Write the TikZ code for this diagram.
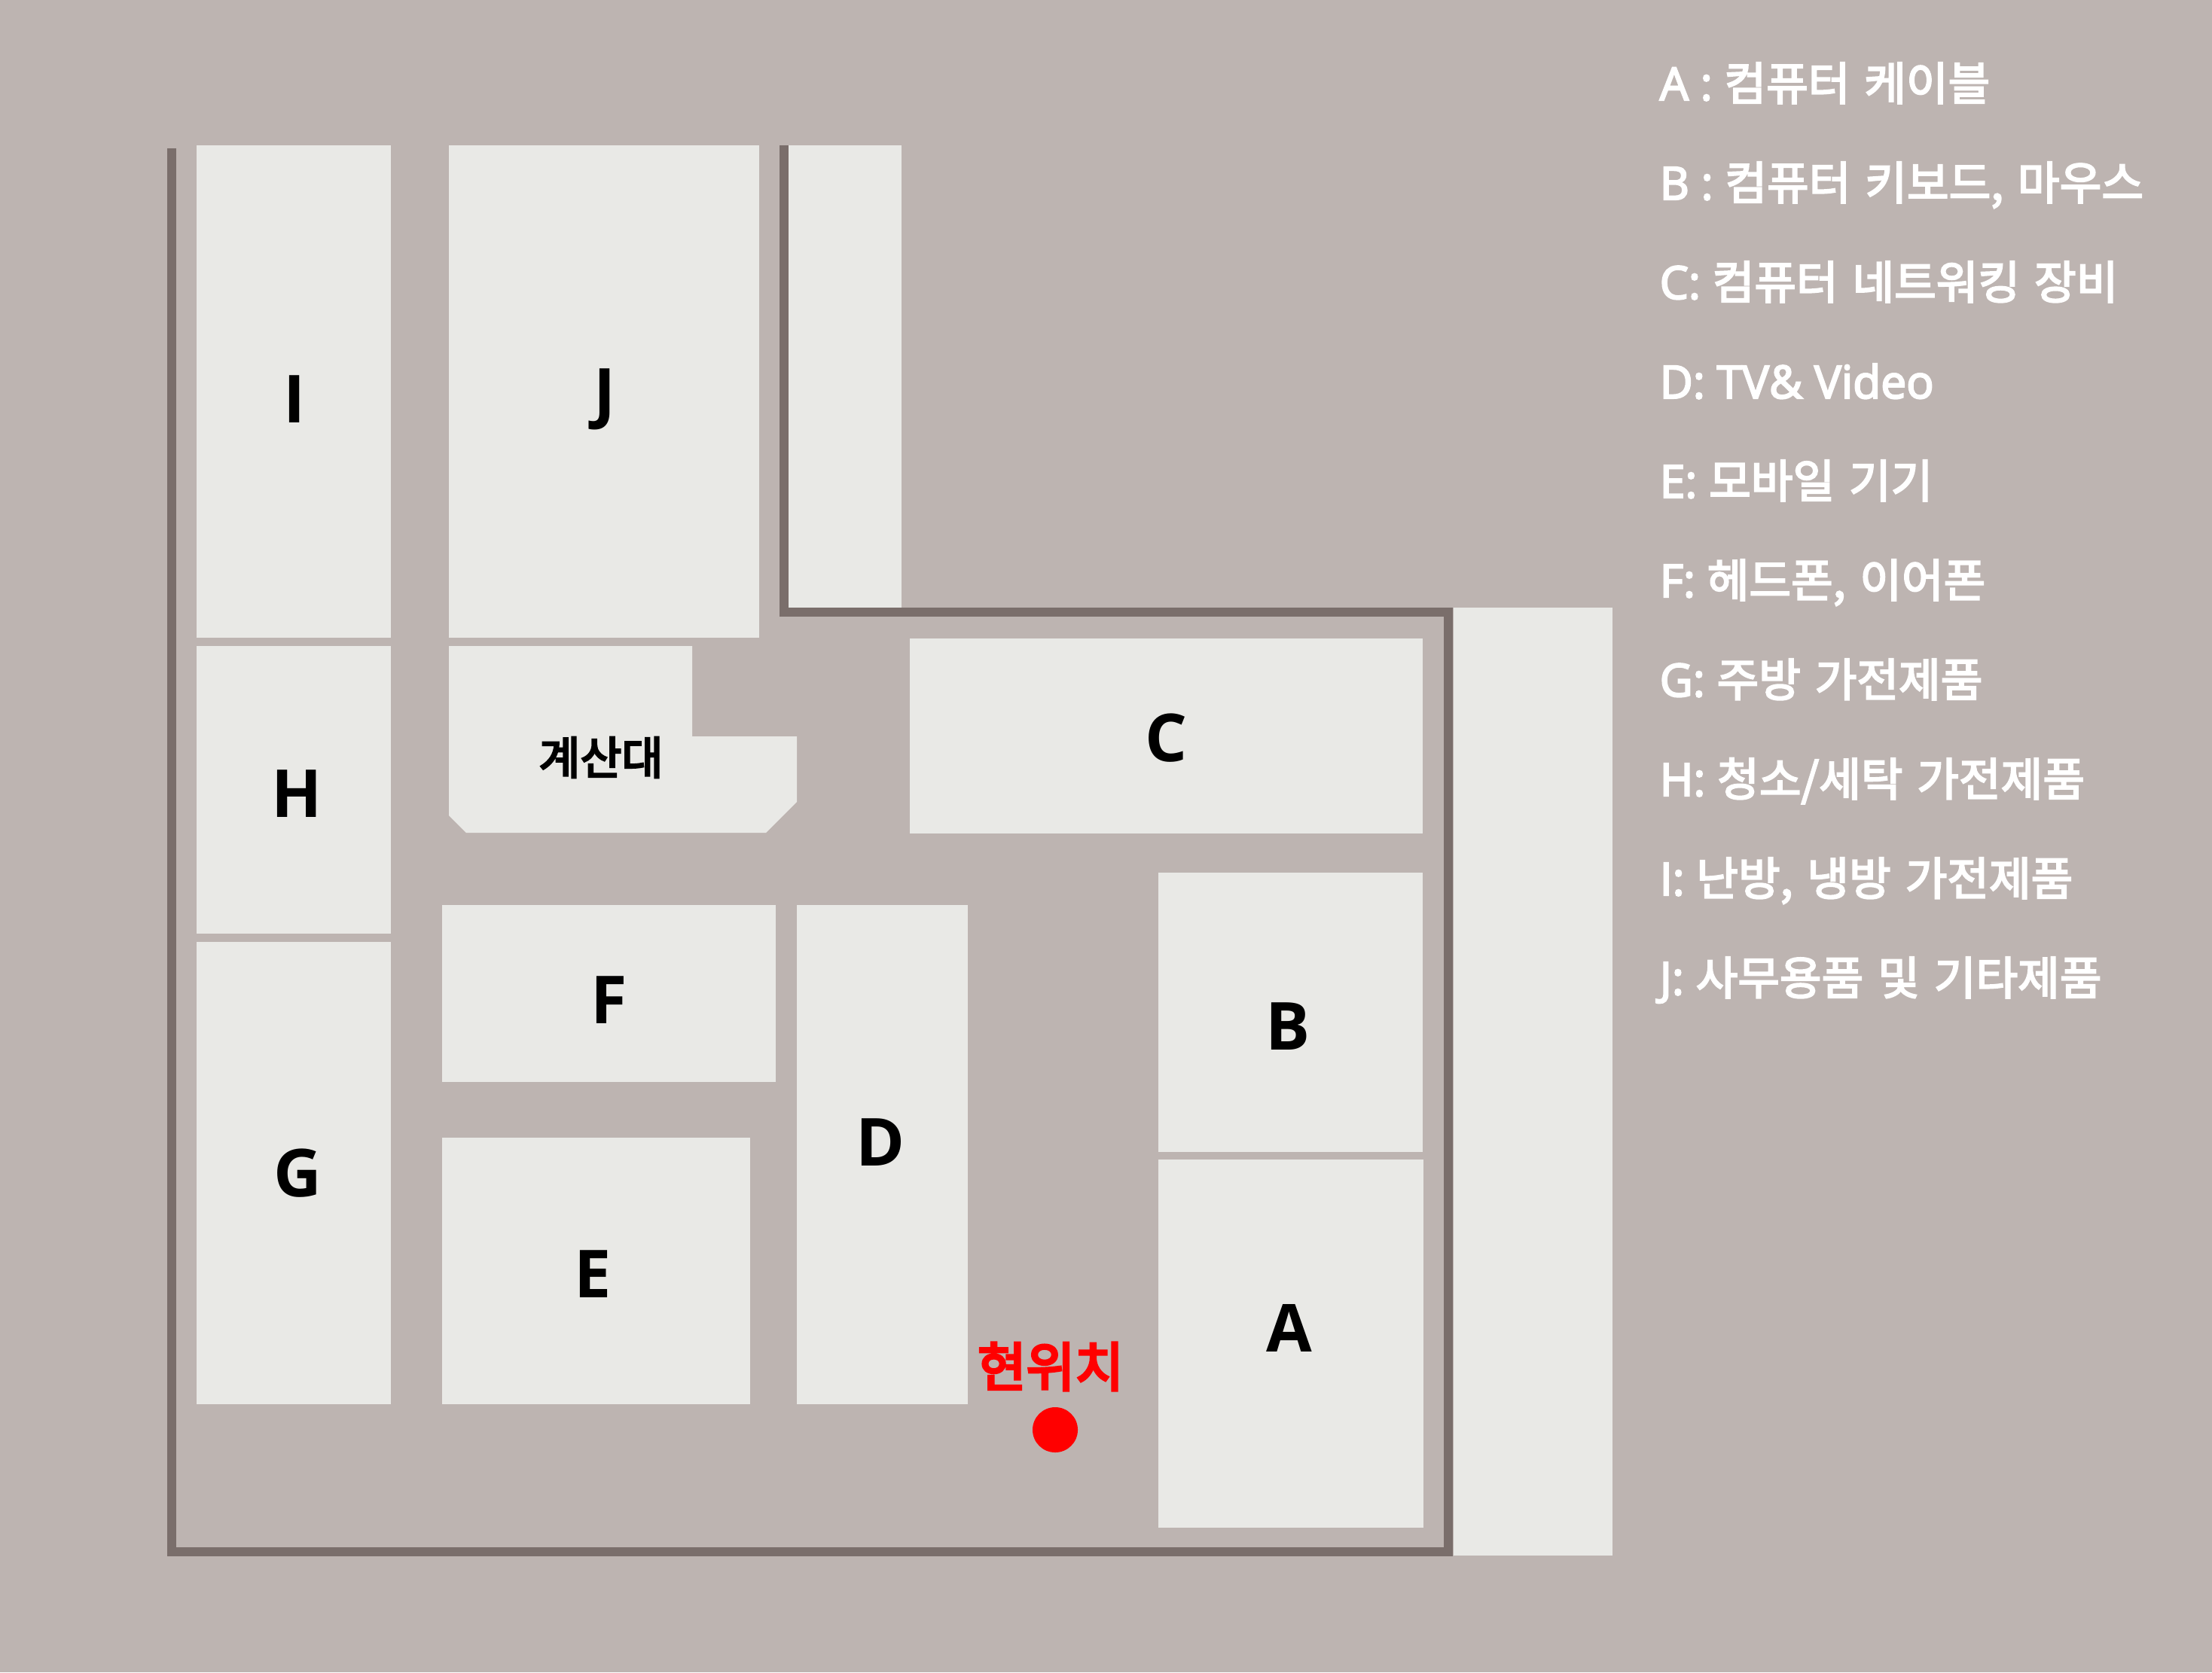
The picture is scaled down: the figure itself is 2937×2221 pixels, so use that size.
\documentclass[tikz,border=0pt]{standalone}
\usepackage{fontspec}
\setmainfont{Open Sans}
\newfontfamily\kofont{Noto Sans CJK KR}
\definecolor{floorbg}{HTML}{BDB4B1}
\definecolor{shelf}{HTML}{E9E9E6}
\definecolor{wallc}{HTML}{7A6E6B}
\newcommand{\heavier}[2]{\special{pdf:code q 2 Tr #1 w}#2\special{pdf:code Q}}
\newcommand{\ko}[1]{{\kofont\spaceskip=5.4pt #1}}
\newcommand{\lgd}[1]{\heavier{0.6}{#1}}
\tikzset{
  shelfbox/.style={fill=shelf,draw=none},
  wallline/.style={draw=wallc,line width=3.3pt,line join=miter},
  letter/.style={font=\fontsize{25}{25}\selectfont\bfseries,text=black,inner sep=0pt},
  legend/.style={anchor=base west,text=white,inner sep=0pt,font=\fontsize{17.2}{17.2}\selectfont},
  kolabel/.style={font=\fontsize{17}{17}\selectfont\kofont,inner sep=0pt}
}
\begin{document}
\begin{tikzpicture}[x=0.01cm,y=-0.01cm]
\path[use as bounding box,fill=floorbg] (0,0) rectangle (2937,2221);
% shelves
\fill[shelfbox] (261,193) rectangle (519,847);
\fill[shelfbox] (596,193) rectangle (1008,847);
\fill[shelfbox] (1047,193) rectangle (1197,807);
\fill[shelfbox] (1930,807) rectangle (2141,2066);
\fill[shelfbox] (261,858) rectangle (519,1240);
\fill[shelfbox] (261,1251) rectangle (519,1865);
\fill[shelfbox] (587,1202) rectangle (1030,1437);
\fill[shelfbox] (587,1511) rectangle (996,1865);
\fill[shelfbox] (1058,1202) rectangle (1285,1865);
\fill[shelfbox] (1208,848) rectangle (1889,1107);
\fill[shelfbox] (1538,1159) rectangle (1889,1530);
\fill[shelfbox] (1538,1540) rectangle (1890,2029);
\fill[shelfbox] (596,858) -- (919,858) -- (919,978) -- (1058,978) -- (1058,1065) -- (1017,1106) -- (619,1106) -- (596,1083) -- cycle;
% walls
\draw[wallline] (228,197) -- (228,2061) -- (1923,2061) -- (1923,813) -- (1041,813) -- (1041,193);
% shelf letters
\node[letter] (lI) at (391,530) {I};
\node[letter] (lJ) at (803,530) {J};
\node[letter] (lH) at (394,1054) {H};
\node[letter] (lG) at (395,1558) {G};
\node[letter] (lF) at (809,1328) {F};
\node[letter] (lE) at (787,1692) {E};
\node[letter] (lD) at (1169,1517) {D};
\node[letter] (lC) at (1548,980) {C};
\node[letter] (lB) at (1710,1363) {B};
\node[letter] (lA) at (1712,1764) {A};
\node[kolabel,text=black] (cashier) at (798,1006) {\heavier{0.75}{계산대}};
\node[kolabel,text=red,font=\fontsize{20}{20}\selectfont\kofont] (here) at (1395,1815) {\heavier{1}{현위치}};
\node[circle,fill=red,minimum size=0.6cm,inner sep=0pt] (dot) at (1401,1899) {};
% legend
\node[legend] (la) at (2203,133) {\lgd{A : \ko{컴퓨터 케이블}}};
\node[legend] (lb) at (2203,265) {\lgd{B : \ko{컴퓨터 키보드, 마우스}}};
\node[legend] (lc) at (2203,397) {\lgd{C: \ko{컴퓨터 네트워킹 장비}}};
\node[legend] (ld) at (2203,529) {\lgd{D: TV\& Video}};
\node[legend] (le) at (2203,661) {\lgd{E: \ko{모바일 기기}}};
\node[legend] (lf) at (2203,793) {\lgd{F: \ko{헤드폰, 이어폰}}};
\node[legend] (lg) at (2203,925) {\lgd{G: \ko{주방 가전제품}}};
\node[legend] (lh) at (2203,1057) {\lgd{H: \ko{청소/세탁 가전제품}}};
\node[legend] (li) at (2203,1189) {\lgd{I: \ko{난방, 냉방 가전제품}}};
\node[legend] (lj) at (2203,1321) {\lgd{J: \ko{사무용품 및 기타제품}}};
\end{tikzpicture}
\end{document}
